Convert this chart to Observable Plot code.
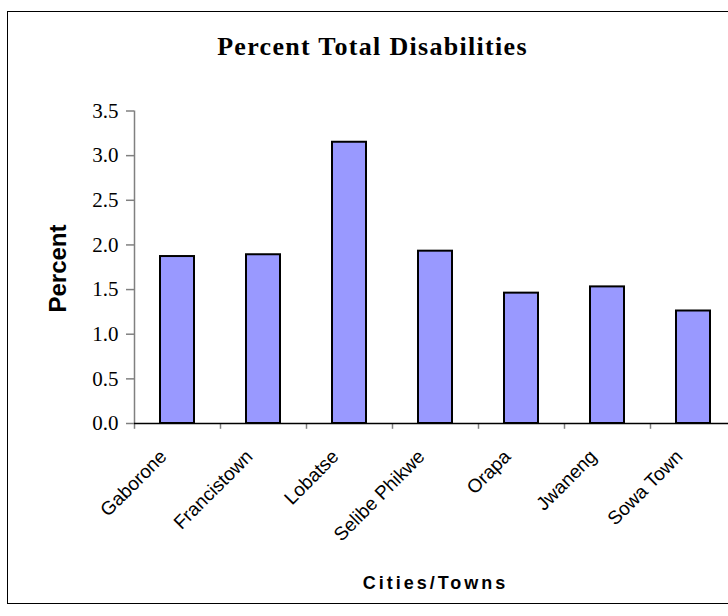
<!DOCTYPE html>
<html>
<head>
<meta charset="utf-8">
<script src="https://cdn.jsdelivr.net/npm/d3@7"></script>
<script src="https://cdn.jsdelivr.net/npm/@observablehq/plot@0.6"></script>
<style>
  html, body { margin: 0; padding: 0; background: #fff; overflow: hidden; }
  #wrap { position: relative; width: 728px; height: 616px; overflow: hidden; }
  #border { position: absolute; left: 7px; top: 11px; width: 740px; height: 593px; border: 1.5px solid #000; box-sizing: border-box; }
  #chart { position: absolute; left: 0; top: 0; }
</style>
</head>
<body>
<div id="wrap"><div id="border"></div><div id="chart"></div></div>
<script>
const cities = ["Gaborone", "Francistown", "Lobatse", "Selibe Phikwe", "Orapa", "Jwaneng", "Sowa Town"];
const percents = [1.87, 1.89, 3.15, 1.93, 1.46, 1.53, 1.26];
const yTicks = [0, 0.5, 1.0, 1.5, 2.0, 2.5, 3.0, 3.5];
const titleText = "Percent Total Disabilities";
const yLabel = "Percent";
const xLabel = "Cities/Towns";

const data = cities.map((c, i) => ({city: c, value: percents[i]}));

const chart = Plot.plot({
  width: 728,
  height: 616,
  marginLeft: 134,
  marginRight: -8,
  marginTop: 110,
  marginBottom: 193,
  style: {background: "transparent", overflow: "visible"},
  x: {domain: cities, range: [134, 736], paddingInner: 0.6, paddingOuter: 0.3, axis: null},
  y: {domain: [0, 3.5], range: [423, 110.5], axis: null},
  marks: [
    Plot.barY(data, {x: "city", y: "value", fill: "#9999ff", stroke: "#000", strokeWidth: 2}),
    // y axis line at left band edge
    Plot.ruleX([cities[0]], {x: d => d, y1: 0, y2: 3.5, dx: -43, stroke: "#808080", strokeWidth: 1.5}),
    // category separator ticks
    Plot.ruleX(cities, {x: d => d, y1: 0, y2: -0.065, dx: -43, stroke: "#808080", strokeWidth: 1.5}),
    Plot.ruleY([0], {stroke: "#000", strokeWidth: 1.5}),
    Plot.axisY({ticks: yTicks, tickFormat: d3.format(".1f"), tickSize: 8, tickPadding: 8, stroke: "#808080", strokeWidth: 1.5, fill: "#000", label: null,
      fontFamily: "Liberation Serif", fontSize: 21}),
    // category tick labels, rotated
    Plot.text(cities, {x: d => d, y: () => 0, rotate: -45, textAnchor: "end", lineAnchor: "middle", dx: -14, dy: 30,
      fontFamily: "Liberation Sans", fontSize: 19, fill: "#000"}),
    Plot.text([titleText], {frameAnchor: "top", dx: -63, dy: -56, lineAnchor: "bottom", fontFamily: "Liberation Serif", fontWeight: "bold", fontSize: 26, fill: "#000"}),
    Plot.text([yLabel], {frameAnchor: "left", rotate: -90, textAnchor: "middle", dx: -76, dy: 1.5, lineAnchor: "middle", fontFamily: "Liberation Sans", fontWeight: "bold", fontSize: 24, fill: "#000"}),
    Plot.text([xLabel], {frameAnchor: "bottom", dy: 160, lineAnchor: "middle", fontFamily: "Liberation Sans", fontWeight: "bold", fontSize: 18, fill: "#000"})
  ]
});
// letter spacing to match the reference's wider text
d3.select(chart).selectAll("text").each(function() {
  const t = this.textContent;
  if (t === titleText) this.setAttribute("letter-spacing", "1.3px");
  if (t === xLabel) this.setAttribute("letter-spacing", "3px");
});
document.getElementById("chart").appendChild(chart);
</script>
</body>
</html>
